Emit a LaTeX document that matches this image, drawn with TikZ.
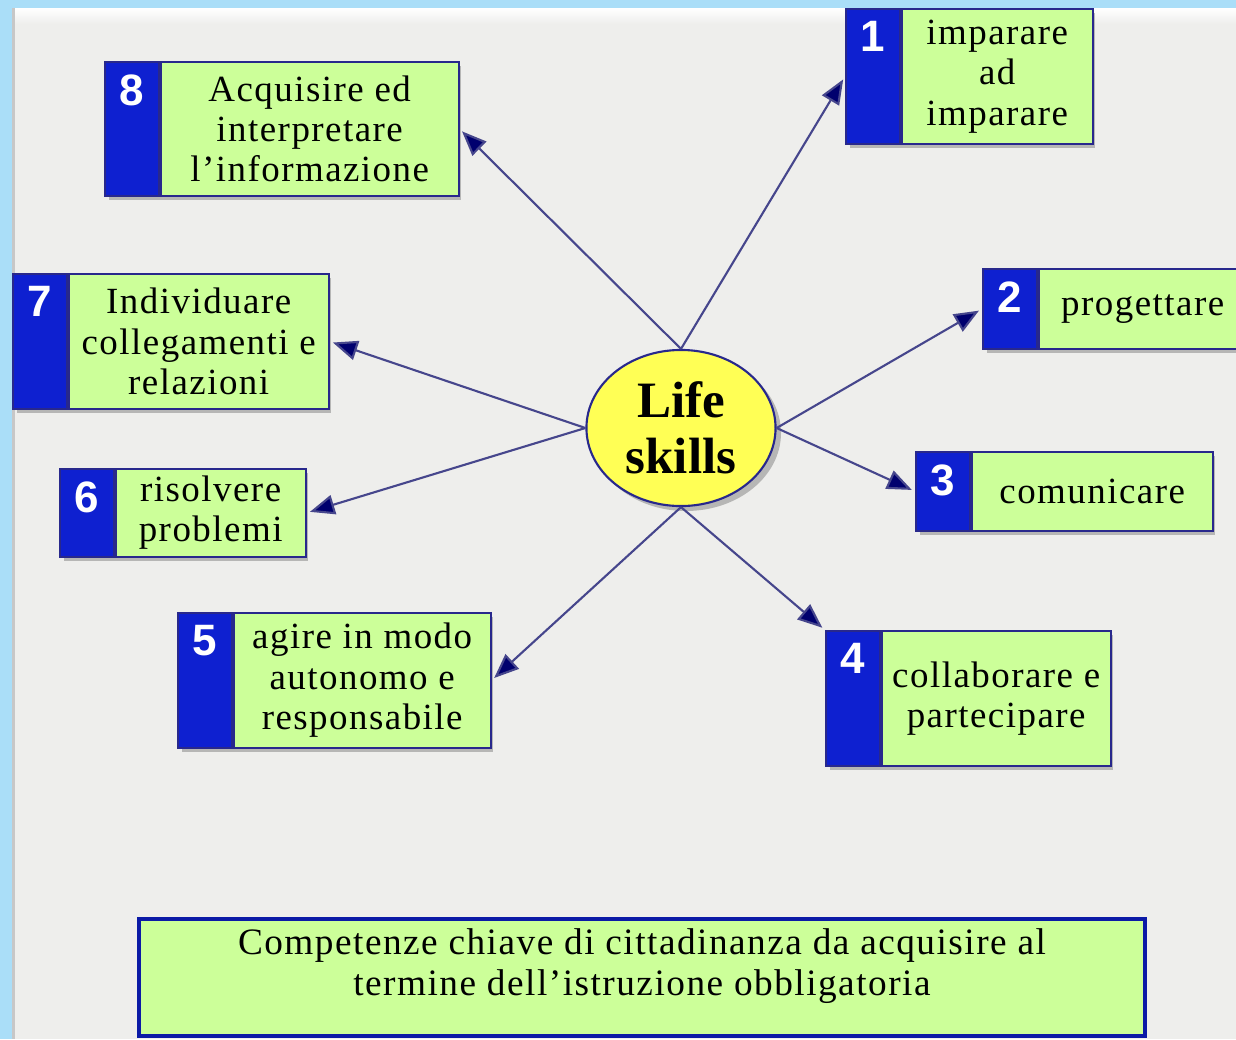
\documentclass[tikz,border=0pt]{standalone}
\usepackage{fontspec}
\setmainfont{Liberation Serif}
\newfontfamily\boxfont{Liberation Serif}[LetterSpace=4]
\newfontfamily\numfont{Liberation Sans}
\usetikzlibrary{shapes.geometric,shadows,arrows.meta,positioning}
\definecolor{skyblue}{RGB}{170,222,248}
\definecolor{panelgray}{RGB}{238,238,236}
\definecolor{stripblue}{RGB}{14,32,208}
\definecolor{edgeblue}{RGB}{40,40,140}
\definecolor{boxgreen}{RGB}{204,255,153}
\definecolor{lifeyellow}{RGB}{255,255,85}
\definecolor{arrline}{RGB}{70,70,140}
\definecolor{arrtip}{RGB}{0,0,110}
\tikzset{
	boxshadow/.style={fill=black!55,opacity=0.45},
	numbox/.style={draw=edgeblue,line width=0.5pt,fill=stripblue,minimum width=0.54cm,inner sep=0pt,anchor=north west},
	txtbox/.style={draw=edgeblue,line width=0.5pt,fill=boxgreen,inner sep=0pt,anchor=north west,align=center,font=\boxfont\fontsize{10.5}{11.5}\selectfont},
	numtxt/.style={text=white,inner sep=0pt,anchor=north,font=\numfont\bfseries\fontsize{12.5}{13}\selectfont},
	arr/.style={draw=arrline,line width=0.6pt,-{Triangle[length=7pt,width=5.6pt,fill=arrtip]},shorten >=1pt},
}
\begin{document}
\begin{tikzpicture}[x=0.01cm,y=-0.01cm]
	\useasboundingbox (0,0) rectangle (1236,1039);
	% background
	\fill[skyblue] (0,0) rectangle (1236,1039);
	\fill[panelgray] (12,8) rectangle (1236,1039);
	\shade[top color=white,bottom color=panelgray] (12,8) rectangle (1236,24);
	\fill[black!22] (12,8) rectangle (15,1039);
	% the eight skills
	\foreach \n/\px/\py/\bw/\bh/\txt in {
		8/104/61/352/134/{Acquisire ed\\interpretare\\l’informazione},
		1/845/8/245/135/{imparare\\ad\\imparare},
		2/982/268/262/80/{progettare},
		3/915/451/295/79/{comunicare},
		4/825/630/283/135/{collaborare e\\partecipare},
		5/177/612/311/135/{agire in modo\\autonomo e\\responsabile},
		6/59/468/244/88/{risolvere\\problemi},
		7/12/273/314/135/{Individuare\\collegamenti e\\relazioni}}{
		\fill[boxshadow] (\px+5,\py+5) rectangle (\px+\bw+5,\py+\bh+5);
		\node[numbox,minimum height=\bh*0.01cm] (n\n) at (\px,\py) {};
		\node[txtbox,minimum width=(\bw-54)*0.01cm,minimum height=\bh*0.01cm] (b\n) at (n\n.north east) {\txt};
		\node[numtxt] at ([yshift=-0.13cm]n\n.north) {\n};
	}
	% centre
	\fill[boxshadow] (686,433) ellipse (95 and 78);
	\node[ellipse,draw=edgeblue,line width=0.6pt,fill=lifeyellow,minimum width=1.89cm,minimum height=1.56cm,inner sep=0pt,align=center,
		font=\bfseries\fontsize{14.5}{15.8}\selectfont] (ls) at (681,428) {Life\\skills};
	\draw[arr] (ls.north) -- (b8.east);
	\draw[arr] (ls.north) -- (n1.west);
	\draw[arr] (ls.east) -- (n2.west);
	\draw[arr] (ls.east) -- (n3.west);
	\draw[arr] (ls.south) -- (n4.north west);
	\draw[arr] (ls.south) -- (b5.east);
	\draw[arr] (ls.west) -- (b6.east);
	\draw[arr] (ls.west) -- (b7.east);
	% caption box
	\node[draw=stripblue!80!black,line width=1.2pt,fill=boxgreen,inner sep=0pt,minimum width=10.05cm,minimum height=1.17cm,anchor=north west] (key) at (137,917) {};
	\node[align=center,anchor=north,inner sep=0pt,font=\boxfont\fontsize{10.6}{11.6}\selectfont] (keytxt) at ([yshift=-0.11cm]key.north) {Competenze chiave di cittadinanza da acquisire al\\termine dell’istruzione obbligatoria};
\end{tikzpicture}
\end{document}
